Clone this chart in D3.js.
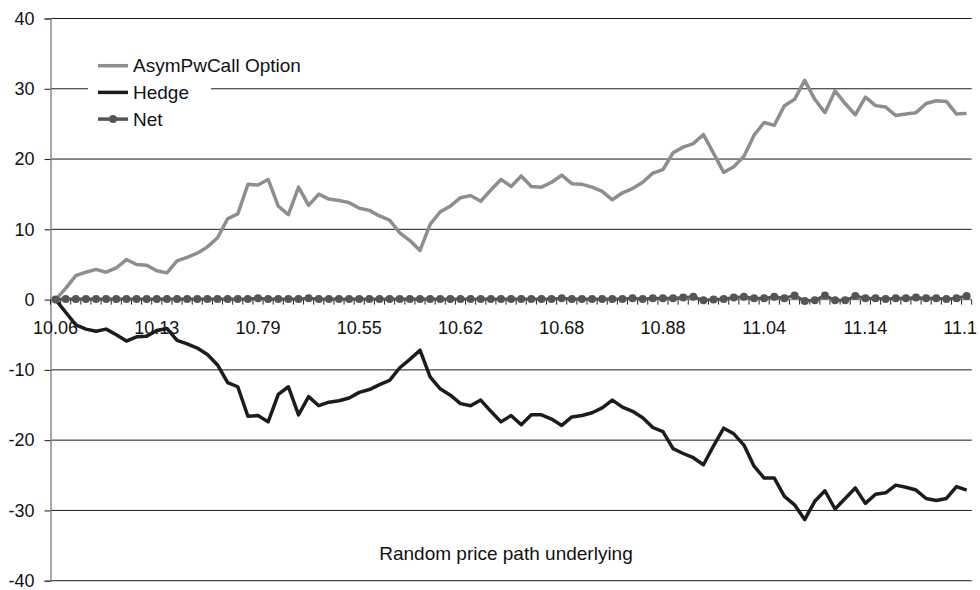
<!DOCTYPE html>
<html>
<head>
<meta charset="utf-8">
<script src="https://cdn.jsdelivr.net/npm/d3@7"></script>
<style>
  html, body { margin: 0; padding: 0; background: #fff; }
  svg { display: block; font-family: "Liberation Sans", Arial, Helvetica, sans-serif; }
</style>
</head>
<body>
<svg id="chart" width="980" height="590"></svg>
<script>
// Option value, hedge value and their sum along one simulated price path (91 steps)
const optionValues = [
  0.0, 1.6, 3.4, 3.9, 4.3, 3.9, 4.5, 5.7, 5.0, 4.9,
  4.1, 3.8, 5.5, 6.0, 6.6, 7.5, 8.8, 11.5, 12.2, 16.4,
  16.3, 17.1, 13.3, 12.1, 16.0, 13.4, 15.0, 14.3, 14.1, 13.8,
  13.0, 12.7, 11.9, 11.3, 9.5, 8.4, 7.0, 10.7, 12.5, 13.3,
  14.5, 14.8, 14.0, 15.6, 17.1, 16.1, 17.6, 16.1, 16.0, 16.7,
  17.7, 16.5, 16.4, 16.0, 15.4, 14.2, 15.2, 15.8, 16.7, 18.0,
  18.5, 20.9, 21.7, 22.2, 23.5, 20.8, 18.1, 18.9, 20.4, 23.4,
  25.2, 24.8, 27.6, 28.5, 31.2, 28.5, 26.6, 29.7, 27.9, 26.3,
  28.8, 27.6, 27.4, 26.2, 26.4, 26.6, 27.9, 28.3, 28.2, 26.4,
  26.5
];
const hedgeValues = [
  0.0, -1.8, -3.6, -4.2, -4.5, -4.2, -5.0, -5.9, -5.3, -5.2,
  -4.4, -4.1, -5.8, -6.3, -6.9, -7.8, -9.3, -11.8, -12.4, -16.6,
  -16.5, -17.4, -13.5, -12.4, -16.4, -13.8, -15.1, -14.6, -14.4, -14.0,
  -13.2, -12.8, -12.1, -11.5, -9.7, -8.5, -7.2, -11.0, -12.7, -13.6,
  -14.8, -15.1, -14.3, -15.9, -17.4, -16.5, -17.8, -16.4, -16.4, -17.0,
  -17.9, -16.7, -16.5, -16.1, -15.4, -14.3, -15.3, -15.9, -16.8, -18.2,
  -18.8, -21.2, -21.9, -22.5, -23.5, -20.8, -18.3, -19.1, -20.7, -23.7,
  -25.4, -25.4, -28.0, -29.2, -31.3, -28.7, -27.2, -29.8, -28.3, -26.8,
  -29.0, -27.7, -27.5, -26.4, -26.7, -27.1, -28.3, -28.6, -28.3, -26.6,
  -27.1
];
const netValues = [
  0.0, 0.1, 0.1, 0.1, 0.1, 0.1, 0.1, 0.1, 0.1, 0.1,
  0.1, 0.1, 0.1, 0.1, 0.1, 0.1, 0.1, 0.1, 0.1, 0.1,
  0.2, 0.1, 0.1, 0.1, 0.1, 0.2, 0.1, 0.1, 0.1, 0.1,
  0.1, 0.1, 0.1, 0.1, 0.1, 0.1, 0.1, 0.1, 0.1, 0.1,
  0.1, 0.1, 0.1, 0.1, 0.1, 0.1, 0.1, 0.1, 0.1, 0.1,
  0.2, 0.1, 0.1, 0.1, 0.1, 0.1, 0.1, 0.2, 0.1, 0.2,
  0.2, 0.2, 0.3, 0.4, -0.1, 0.0, 0.1, 0.3, 0.4, 0.2,
  0.2, 0.4, 0.2, 0.6, -0.2, -0.1, 0.6, -0.1, -0.1, 0.5,
  0.2, 0.2, 0.1, 0.2, 0.2, 0.3, 0.2, 0.2, 0.1, 0.2,
  0.5
];
// Category axis: one label every ten steps
const tickLabels = ["10.06", "10.13", "10.79", "10.55", "10.62", "10.68", "10.88", "11.04", "11.14", "11.1"];
const yTicks = [-40, -30, -20, -10, 0, 10, 20, 30, 40];
const seriesNames = ["AsymPwCall Option", "Hedge", "Net"];
const axisTitle = "Random price path underlying";

const svg = d3.select("#chart");
const W = 980;
const plotLeft = 50.5, plotRight = 971.7, plotTop = 18.5, plotBottom = 580.7;

const idx = d3.range(optionValues.length);
const x = d3.scaleBand().domain(idx).range([plotLeft, plotRight]).padding(0);
const cx = i => x(i) + x.bandwidth() / 2;
const y = d3.scaleLinear().domain([-40, 40]).range([plotBottom, plotTop]);

// horizontal gridlines
svg.append("g")
  .selectAll("line")
  .data(yTicks.filter(t => t !== 0))
  .join("line")
  .attr("x1", plotLeft).attr("x2", plotRight)
  .attr("y1", d => y(d)).attr("y2", d => y(d))
  .attr("stroke", "#1a1a1a").attr("stroke-width", 1);

// value axis (plain hyphen for negatives)
const yAxis = svg.append("g").attr("transform", `translate(${plotLeft},0)`)
  .call(d3.axisLeft(y).tickValues(yTicks).tickSize(6).tickPadding(10).tickFormat(d => String(d)));
yAxis.select(".domain").attr("stroke", "#8a8a8a").attr("stroke-width", 1.5);
yAxis.selectAll(".tick line").attr("stroke", "#1a1a1a");
yAxis.selectAll("text").attr("font-size", 18).attr("fill", "#111")
  .attr("font-family", "Liberation Sans, Arial, sans-serif");

// category axis crossing at zero
const xg = svg.append("g").attr("transform", `translate(0,${y(0)})`);
xg.append("line").attr("x1", plotLeft).attr("x2", plotRight).attr("y1", 0).attr("y2", 0)
  .attr("stroke", "#8a8a8a").attr("stroke-width", 1.5);
xg.selectAll("line.tk")
  .data(d3.range(idx.length + 1))
  .join("line").attr("class", "tk")
  .attr("x1", i => plotLeft + i * x.bandwidth()).attr("x2", i => plotLeft + i * x.bandwidth())
  .attr("y1", 0).attr("y2", 5)
  .attr("stroke", "#222").attr("stroke-width", 1);
const xl = xg.selectAll("text")
  .data(tickLabels)
  .join("text")
  .attr("x", (d, k) => cx(k * 10))
  .attr("y", 28)
  .attr("dy", "0.35em")
  .attr("text-anchor", "middle")
  .attr("font-size", 18)
  .attr("fill", "#111")
  .text(d => d);
// keep edge labels inside the drawing
xl.each(function () {
  const b = this.getBBox();
  if (b.x + b.width > W - 3) {
    d3.select(this).attr("x", +d3.select(this).attr("x") - (b.x + b.width - (W - 3)));
  }
});

// series lines
const line = d3.line().x((d, i) => cx(i)).y(d => y(d));
svg.append("path").datum(optionValues).attr("d", line)
  .attr("fill", "none").attr("stroke", "#8e8e8e").attr("stroke-width", 3.5)
  .attr("stroke-linejoin", "round");
svg.append("path").datum(hedgeValues).attr("d", line)
  .attr("fill", "none").attr("stroke", "#1c1c1c").attr("stroke-width", 3.5)
  .attr("stroke-linejoin", "round");
svg.append("path").datum(netValues).attr("d", line)
  .attr("fill", "none").attr("stroke", "#555").attr("stroke-width", 3)
  .attr("stroke-linejoin", "round");
svg.append("g").selectAll("circle")
  .data(netValues)
  .join("circle")
  .attr("cx", (d, i) => cx(i)).attr("cy", d => y(d)).attr("r", 4)
  .attr("fill", "#555");

// axis title
svg.append("text")
  .attr("x", 506).attr("y", 553).attr("dy", "0.35em")
  .attr("text-anchor", "middle").attr("font-size", 19).attr("fill", "#111")
  .text(axisTitle);

// legend
const lg = svg.append("g").attr("transform", "translate(88,50)");
lg.append("rect").attr("x", 0).attr("y", 0).attr("width", 123).attr("height", 82).attr("fill", "#fff");
const styles = [
  { color: "#8e8e8e", marker: false },
  { color: "#1c1c1c", marker: false },
  { color: "#555", marker: true }
];
seriesNames.forEach((name, k) => {
  const ly = 15.7 + k * 26.7;
  lg.append("line").attr("x1", 10).attr("x2", 40).attr("y1", ly).attr("y2", ly)
    .attr("stroke", styles[k].color).attr("stroke-width", 3.5);
  if (styles[k].marker) {
    lg.append("circle").attr("cx", 25).attr("cy", ly).attr("r", 4).attr("fill", styles[k].color);
  }
  lg.append("text").attr("x", 45).attr("y", ly).attr("dy", "0.35em")
    .attr("font-size", 19).attr("fill", "#111").text(name);
});
</script>
</body>
</html>
